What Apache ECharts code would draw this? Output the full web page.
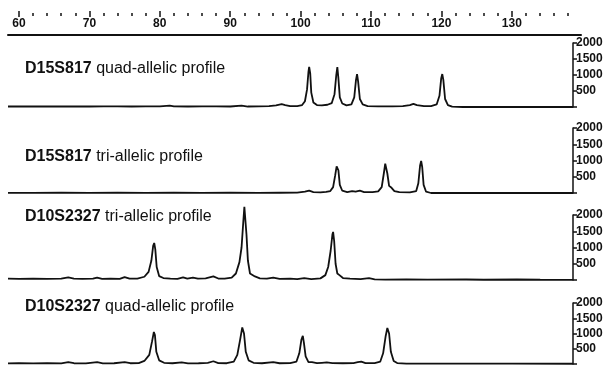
<!DOCTYPE html>
<html>
<head>
<meta charset="utf-8">
<script src="https://cdn.jsdelivr.net/npm/echarts@6/dist/echarts.min.js"></script>
<style>
  html, body { margin: 0; padding: 0; background: #fff; }
  #chart { width: 608px; height: 369px; }
</style>
</head>
<body>
<div id="chart"></div>
<script>
// fragment size axis (bp)
var sizeLabels = [60, 70, 80, 90, 100, 110, 120, 130]
var sizeMinor = [62, 64, 66, 68, 72, 74, 76, 78, 82, 84, 86, 88, 92, 94, 96, 98, 102, 104, 106, 108,
  112, 114, 116, 118, 122, 124, 126, 128, 132, 134, 136, 138]
var rfuLabels = [500, 1000, 1500, 2000]
var rfuTicks = [0, 500, 1000, 1500, 2000]

var panelNames = ['D15S817', 'D15S817', 'D10S2327', 'D10S2327']
var panelKinds = ['quad-allelic profile', 'tri-allelic profile', 'tri-allelic profile', 'quad-allelic profile']

// traces: [size, rfu]
var quad15 = [[58.44,15],[60,20],[62,15],[64,20],[66,15],[68,20],[70,15],[72,20],[74,18],[76,15],[78,20],[80,18],
  [81.4,45],[82,18],[84,15],[86,20],[88,18],[90,15],[91.6,40],[92.5,15],[94,20],[95.5,25],[96.5,50],[97.3,90],
  [97.8,60],[98.5,25],[99.5,30],[100.2,60],[100.6,180],[100.9,550],[101.1,1100],[101.2,1250],[101.35,1050],
  [101.5,450],[101.8,140],[102.3,60],[103,50],[103.8,70],[104.4,120],[104.8,400],[105.05,1000],[105.2,1250],
  [105.35,900],[105.55,300],[105.9,110],[106.5,50],[107.2,80],[107.6,300],[107.85,850],[108,1030],[108.15,800],
  [108.4,250],[108.8,80],[109.5,30],[111,20],[113,20],[114.5,25],[115.5,60],[116,100],[116.5,60],[117.5,25],
  [118.5,30],[119.3,80],[119.7,350],[119.95,900],[120.1,1030],[120.25,850],[120.5,250],[120.9,60],[121.5,10],
  [123,0],[138.66,0]]

var tri15 = [[58.44,5],[62,5],[66,8],[70,5],[74,8],[78,5],[82,8],[86,5],[90,8],[94,5],[97,8],[99.5,10],
  [100.6,40],[101.2,70],[101.8,30],[102.8,20],[103.6,35],[104.2,60],[104.6,180],[104.9,550],[105.1,820],
  [105.2,860],[105.35,700],[105.55,250],[105.9,70],[106.6,30],[107.3,60],[107.8,40],[108.4,70],[109,30],
  [110.2,25],[111,50],[111.5,180],[111.8,600],[112,900],[112.1,920],[112.3,600],[112.55,220],[112.9,160],
  [113.3,60],[114,25],[115.5,20],[116.4,60],[116.7,300],[116.95,850],[117.1,985],[117.25,800],[117.45,250],
  [117.8,40],[118.5,0],[138.66,0]]

var tri10 = [[58.44,40],[60,35],[62,45],[64,35],[66,40],[67,80],[67.8,45],[69,35],[70.5,40],[71.1,70],[71.8,35],
  [73,40],[74.3,35],[75,90],[75.7,40],[76.8,45],[77.8,100],[78.4,250],[78.8,600],[79.05,1050],[79.2,1140],
  [79.35,950],[79.55,400],[79.9,120],[80.5,60],[81.5,40],[82.5,35],[83.3,80],[83.9,40],[84.7,70],[85.4,40],
  [86.5,50],[87.6,110],[88.3,45],[89.2,40],[90.2,70],[90.8,200],[91.3,550],[91.6,1000],[91.85,1800],[92,2250],
  [92.15,2200],[92.3,1400],[92.5,600],[92.8,200],[93.5,110],[94.2,50],[95.2,40],[96.1,70],[97,35],[98.5,40],
  [99.5,30],[100.5,60],[101.5,30],[102.8,50],[103.5,150],[103.9,400],[104.25,900],[104.5,1400],[104.6,1480],
  [104.75,1200],[104.95,500],[105.2,200],[105.5,150],[106,60],[107,40],[108.5,30],[109.7,55],[110.5,20],
  [112,10],[115,15],[118,10],[123.5,15],[126,8],[130.7,15],[134,8],[138.66,5]]

var quad10 = [[58.44,20],[60,25],[62,20],[64,25],[66,20],[67,60],[67.8,25],[69.5,20],[71.1,60],[71.9,20],
  [73.5,25],[75,60],[75.8,25],[77,30],[77.8,100],[78.5,300],[78.9,750],[79.15,1050],[79.3,950],[79.5,400],
  [79.9,120],[80.6,40],[81.8,25],[83.1,50],[84,20],[85.5,25],[86.8,40],[87.6,90],[88.3,30],[89.5,25],[90.5,80],
  [91,300],[91.4,800],[91.7,1200],[91.8,1250],[91.95,1000],[92.2,400],[92.6,120],[93.3,40],[94.5,25],[96.1,60],
  [97,25],[98.5,30],[99.4,80],[99.8,350],[100.1,800],[100.3,920],[100.45,700],[100.7,250],[101.1,60],
  [101.6,60],[102.3,30],[103,40],[103.7,50],[104.5,30],[106,25],[107.5,30],[108.1,60],[108.6,80],[109.2,30],
  [110.5,30],[111.3,80],[111.7,350],[112.05,900],[112.3,1180],[112.4,1210],[112.55,1000],[112.8,400],
  [113.2,100],[113.7,30],[115,15],[120,10],[125,15],[130,10],[138.66,8]]

var traces = [quad15, tri15, tri10, quad10]

var ink = '#111'
var font = "'Liberation Sans', Arial, sans-serif"
var panelTop = [43, 128, 215, 303]
var panelH = [64, 65, 65, 61]
var titleTop = [61, 149, 209, 299]

function plain(v) { return String(v) }

var grids = [], xAxes = [], yAxes = [], series = [], titles = []
for (var i = 0; i < 4; i++) {
  grids.push({ left: 8, right: 35, top: panelTop[i], height: panelH[i] })
  xAxes.push({ gridIndex: i, type: 'value', min: 58.44, max: 138.66, show: false })
  yAxes.push({
    gridIndex: i, type: 'value', position: 'right', min: 0, max: 2000,
    axisLine: { show: true, lineStyle: { color: ink, width: 1.5 } },
    axisTick: { show: true, customValues: rfuTicks, length: 4, lineStyle: { color: ink, width: 1.5 } },
    axisLabel: { customValues: rfuLabels, formatter: plain, margin: 3, color: ink, fontSize: 12, fontWeight: 'bold', fontFamily: font },
    splitLine: { show: false }
  })
  series.push({
    type: 'line', xAxisIndex: i, yAxisIndex: i, data: traces[i], symbol: 'none', clip: false,
    lineStyle: { color: ink, width: 1.8 }
  })
  titles.push({
    left: 25, top: titleTop[i], padding: 0,
    text: '{b|' + panelNames[i] + '} ' + panelKinds[i],
    textStyle: {
      fontSize: 16, fontWeight: 'normal', color: ink, fontFamily: font,
      rich: { b: { fontSize: 16, fontWeight: 'bold', color: ink, fontFamily: font } }
    }
  })
}

// top size ruler
grids.push({ left: 8, right: 27, top: 34, height: 1 })
yAxes.push({ gridIndex: 4, type: 'value', show: false })
xAxes.push({
  gridIndex: 4, type: 'value', position: 'top', min: 58.44, max: 139.83,
  axisLine: { show: true, lineStyle: { color: ink, width: 2 } },
  axisTick: { show: false },
  axisLabel: { customValues: sizeLabels, formatter: plain, margin: 4, color: ink, fontSize: 12, fontWeight: 'bold', fontFamily: font },
  splitLine: { show: false }
})
xAxes.push({
  gridIndex: 4, type: 'value', position: 'top', offset: 17, min: 58.44, max: 139.83,
  axisLine: { show: false },
  axisTick: { show: true, customValues: sizeLabels, length: 6, lineStyle: { color: ink, width: 1.5 } },
  axisLabel: { show: false },
  splitLine: { show: false }
})
xAxes.push({
  gridIndex: 4, type: 'value', position: 'top', offset: 18, min: 58.44, max: 139.83,
  axisLine: { show: false },
  axisTick: { show: true, customValues: sizeMinor, length: 3, lineStyle: { color: ink, width: 1.5 } },
  axisLabel: { show: false },
  splitLine: { show: false }
})

var chart = echarts.init(document.getElementById('chart'))
chart.setOption({
  animation: false,
  backgroundColor: '#fff',
  title: titles,
  grid: grids,
  xAxis: xAxes,
  yAxis: yAxes,
  series: series
})
</script>
</body>
</html>
